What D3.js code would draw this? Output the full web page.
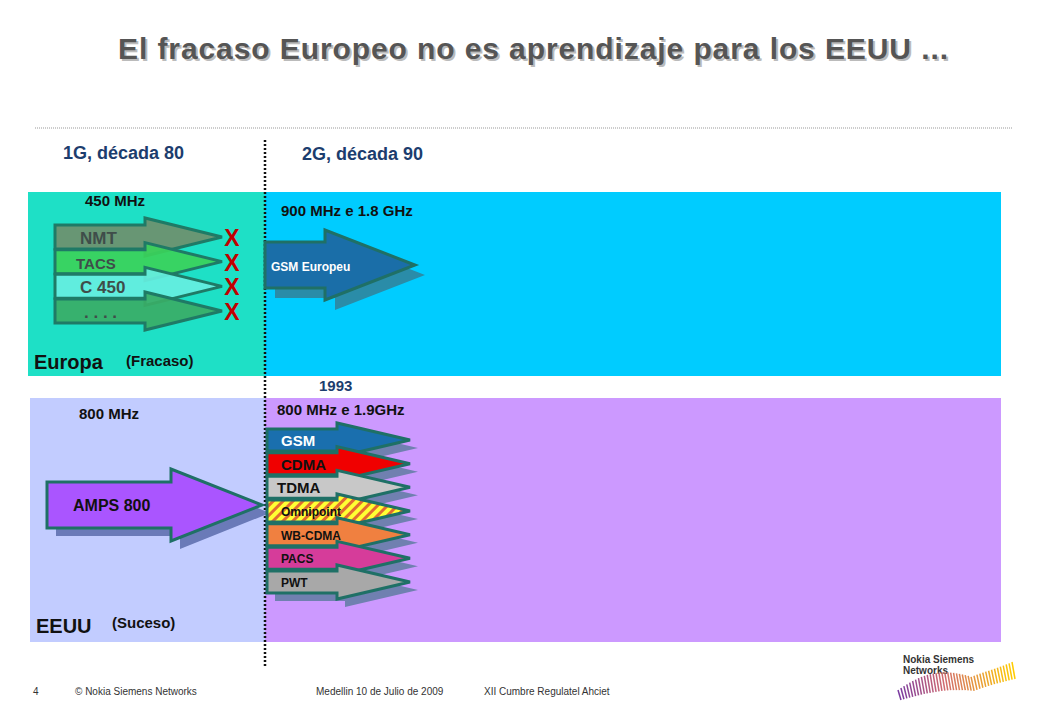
<!DOCTYPE html>
<html><head><meta charset="utf-8">
<script src="https://cdn.jsdelivr.net/npm/d3@7"></script>
<style>body{margin:0;background:#fff}svg{display:block;font-family:Arial,"Liberation Sans",sans-serif}</style>
</head><body>
<svg id="c" width="1040" height="720"></svg>
<script>
// data
const euSystems = ["NMT", "TACS", "C 450", ". . . ."];
const euColors = ["#6f8f6c", "#3bd15a", "#66eee0", "#3aad66"];
const usSystems = ["GSM", "CDMA", "TDMA", "Omnipoint", "WB-CDMA", "PACS", "PWT"];
const usColors = ["#1a6fae", "#f00000", "#c8c8c8", "hatch", "#f08040", "#d63c9a", "#a8a8a8"];
const usText = ["#fff", "#111", "#111", "#111", "#111", "#111", "#111"];

const svg = d3.select("#c");
const defs = svg.append("defs");
const pat = defs.append("pattern").attr("id", "hatch").attr("width", 7).attr("height", 7)
    .attr("patternUnits", "userSpaceOnUse").attr("patternTransform", "rotate(45)");
pat.append("rect").attr("width", 7).attr("height", 7).attr("fill", "#ffff33");
pat.append("rect").attr("width", 3).attr("height", 7).attr("fill", "#e06a30");

// arrow path: body from x0 to xh, head to x1, centered at cy
function arrow(x0, xh, x1, cy, bh, hh) {
    return `M${x0},${cy - bh / 2}H${xh}V${cy - hh / 2}L${x1},${cy}L${xh},${cy + hh / 2}V${cy + bh / 2}H${x0}Z`;
}

// title
const title = "El fracaso Europeo no es aprendizaje para los EEUU ...";
svg.append("text").attr("x", 120).attr("y", 61).attr("font-size", 30).attr("font-weight", "bold")
    .attr("fill", "#bbb").attr("textLength", 830).text(title);
svg.append("text").attr("x", 118).attr("y", 59).attr("font-size", 30).attr("font-weight", "bold")
    .attr("fill", "#555").attr("textLength", 830).text(title);
svg.append("line").attr("x1", 35).attr("x2", 1012).attr("y1", 128).attr("y2", 128)
    .attr("stroke", "#999").attr("stroke-dasharray", "1,1");

// boxes
svg.append("rect").attr("x", 28).attr("y", 192).attr("width", 237).attr("height", 184).attr("fill", "#1ee0c6");
svg.append("rect").attr("x", 265).attr("y", 192).attr("width", 736).attr("height", 184).attr("fill", "#00ccff");
svg.append("rect").attr("x", 30).attr("y", 398).attr("width", 235).attr("height", 244).attr("fill", "#c2ccff");
svg.append("rect").attr("x", 265).attr("y", 398).attr("width", 736).attr("height", 244).attr("fill", "#cc99ff");
svg.append("line").attr("x1", 265).attr("x2", 265).attr("y1", 140).attr("y2", 666)
    .attr("stroke", "#111").attr("stroke-width", 2.5).attr("stroke-dasharray", "2,2");

const lab = (x, y, t, s, c, w) => svg.append("text").attr("x", x).attr("y", y).attr("font-size", s)
    .attr("fill", c || "#111").attr("font-weight", w || "bold").text(t);
lab(63, 159, "1G, década 80", 18, "#1c3d6e");
lab(302, 160, "2G, década 90", 18, "#1c3d6e");
lab(85, 206, "450 MHz", 15);
lab(281, 216, "900 MHz e 1.8 GHz", 15);
lab(34, 369, "Europa", 20);
lab(126, 366, "(Fracaso)", 15);
lab(319, 391, "1993", 15, "#1c3d6e");
lab(79, 419, "800 MHz", 15);
lab(277, 415, "800 MHz e 1.9GHz", 15);
lab(36, 633, "EEUU", 20);
lab(112, 628, "(Suceso)", 15);

// Europe 1G arrows
const yEu = d3.scalePoint().domain(euSystems).range([237, 311]);
euSystems.forEach((s, i) => {
    const cy = yEu(s);
    svg.append("path").attr("d", arrow(55, 145, 222, cy, 24, 38))
        .attr("fill", euColors[i]).attr("fill-opacity", 0.92).attr("stroke", "#1f7a66").attr("stroke-width", 3);
    svg.append("text").attr("x", i === 3 ? 84 : (i === 1 ? 76 : 80)).attr("y", cy + 7)
        .attr("font-size", i === 1 ? 15 : 17).attr("font-weight", "bold").attr("fill", "#3f4d4a").text(s);
});
euSystems.forEach(s => {
    svg.append("text").attr("x", 232).attr("y", yEu(s) + 9).attr("text-anchor", "middle")
        .attr("font-size", 23).attr("font-weight", "bold").attr("fill", "#c00000").text("X");
});

// GSM Europeu
svg.append("path").attr("d", arrow(275, 335, 425, 275, 46, 70)).attr("fill", "#2a8ca8");
svg.append("path").attr("d", arrow(265, 325, 415, 265, 46, 70))
    .attr("fill", "#1a6ea8").attr("stroke", "#1f7066").attr("stroke-width", 3);
svg.append("text").attr("x", 271).attr("y", 271).attr("font-size", 12).attr("font-weight", "bold")
    .attr("fill", "#fff").text("GSM Europeu");

// AMPS
svg.append("path").attr("d", arrow(56, 180, 270, 513, 46, 72)).attr("fill", "#6a7ab8");
svg.append("path").attr("d", arrow(47, 171, 262, 505, 46, 72))
    .attr("fill", "#aa55ff").attr("stroke", "#1f7066").attr("stroke-width", 3);
svg.append("text").attr("x", 73).attr("y", 511).attr("font-size", 16).attr("font-weight", "bold")
    .attr("fill", "#111").text("AMPS 800");

// US 2G arrows
const yUs = d3.scalePoint().domain(usSystems).range([440, 582]);
usSystems.forEach(s => {
    svg.append("path").attr("d", arrow(275, 345, 418, yUs(s) + 8, 22, 34)).attr("fill", "#7080b0");
});
usSystems.forEach((s, i) => {
    const cy = yUs(s);
    svg.append("path").attr("d", arrow(267, 337, 410, cy, 22, 34))
        .attr("fill", usColors[i] === "hatch" ? "url(#hatch)" : usColors[i])
        .attr("stroke", "#1f7066").attr("stroke-width", 3);
    const small = i >= 3;
    svg.append("text").attr("x", i === 2 ? 277 : 281).attr("y", cy + (small ? 5 : 6))
        .attr("font-size", small ? 12 : 15).attr("font-weight", "bold").attr("fill", usText[i]).text(s);
});

// footer
const foot = (x, t) => svg.append("text").attr("x", x).attr("y", 695).attr("font-size", 10)
    .attr("fill", "#333").text(t);
foot(33, "4");
foot(75, "© Nokia Siemens Networks");
foot(316, "Medellin 10 de Julio de 2009");
foot(484, "XII Cumbre  Regulatel  Ahciet");
svg.append("text").attr("x", 903).attr("y", 663).attr("font-size", 10).attr("font-weight", "bold")
    .attr("fill", "#333").text("Nokia Siemens");
svg.append("text").attr("x", 903).attr("y", 674).attr("font-size", 10).attr("font-weight", "bold")
    .attr("fill", "#333").text("Networks");
const wave = d3.range(0, 40);
const xw = d3.scaleLinear().domain([0, 39]).range([898, 1012]);
const cw = d3.scaleLinear().domain([0, 15, 39]).range(["#7a3aa0", "#d06a70", "#ffcc00"]);
svg.append("g").selectAll("line").data(wave).join("line")
    .attr("x1", d => xw(d)).attr("x2", d => xw(d) + 3)
    .attr("y1", d => 690 - 25 * Math.sin(d / 39 * Math.PI) * (1 - d / 60) + (d > 25 ? -(d - 25) * 2 : 0))
    .attr("y2", d => 700 - 10 * Math.sin(d / 39 * Math.PI) - (d > 25 ? (d - 25) * 1.5 : 0))
    .attr("stroke", d => cw(d)).attr("stroke-width", 1.5);
</script>
</body></html>
